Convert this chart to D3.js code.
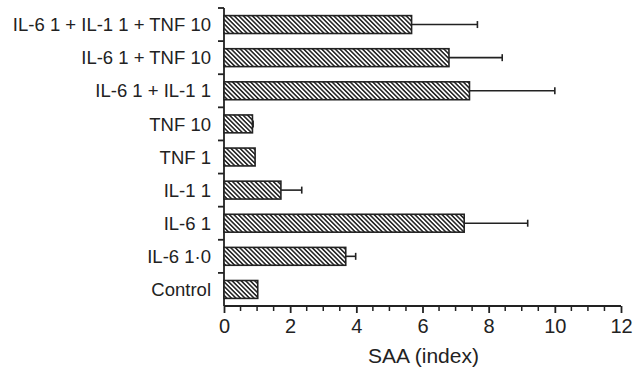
<!DOCTYPE html>
<html>
<head>
<meta charset="utf-8">
<script src="https://cdn.jsdelivr.net/npm/d3@7"></script>
<style>
  body { margin: 0; background: #fff; }
  svg { font-family: "Liberation Sans", Arial, sans-serif; }
</style>
</head>
<body>
<svg id="chart" width="636" height="368"></svg>
<script>
// SAA index per treatment (top to bottom as drawn)
const categories = [
  'IL-6 1 + IL-1 1 + TNF 10',
  'IL-6 1 + TNF 10',
  'IL-6 1 + IL-1 1',
  'TNF 10',
  'TNF 1',
  'IL-1 1',
  'IL-6 1',
  'IL-6 1·0',
  'Control'
];
const values = [5.67, 6.8, 7.42, 0.86, 0.94, 1.72, 7.26, 3.68, 1.02];
const errorTops = [7.66, 8.41, 10.0, 0.88, null, 2.35, 9.18, 3.98, null];
const xTicks = [0, 2, 4, 6, 8, 10, 12];

const ink = '#222';
const margin = { top: 8, right: 15, bottom: 62, left: 224 };
const width = 636, height = 368;

const svg = d3.select('#chart');

// hatch pattern: diagonal "\" strokes
const hs = 3.2;
const defs = svg.append('defs');
const pat = defs.append('pattern')
  .attr('id', 'hatch')
  .attr('patternUnits', 'userSpaceOnUse')
  .attr('width', hs).attr('height', hs)
  .attr('patternTransform', 'rotate(-45)');
pat.append('rect').attr('width', hs).attr('height', hs).attr('fill', '#fff');
pat.append('rect').attr('x', 0).attr('width', 1.6).attr('height', hs).attr('fill', '#2a2a2a');

const x = d3.scaleLinear().domain([0, 12]).range([margin.left, width - margin.right]);
const y = d3.scaleBand().domain(categories)
  .range([margin.top, height - margin.bottom])
  .paddingInner(0.46).paddingOuter(0.23);

// y axis: ticks at category boundaries
const yAxisG = svg.append('g').attr('stroke', ink).attr('stroke-width', 1.8);
yAxisG.append('line')
  .attr('x1', x(0)).attr('x2', x(0))
  .attr('y1', margin.top).attr('y2', height - margin.bottom);
const step = y.step();
d3.range(categories.length).forEach(i => {
  const yy = margin.top + i * step;
  yAxisG.append('line').attr('x1', x(0) - 6).attr('x2', x(0)).attr('y1', yy).attr('y2', yy);
});

// category labels
svg.append('g').selectAll('text')
  .data(categories)
  .join('text')
  .attr('x', x(0) - 13)
  .attr('y', d => y(d) + y.bandwidth() / 2)
  .attr('dy', '0.36em')
  .attr('text-anchor', 'end')
  .attr('font-size', 18.5)
  .attr('fill', ink)
  .text(d => d);

// x axis
const xAxis = d3.axisBottom(x).tickValues(xTicks).tickSize(7).tickPadding(6).tickFormat(d3.format('d'));
const xg = svg.append('g')
  .attr('transform', `translate(0,${height - margin.bottom})`)
  .call(xAxis);
xg.select('.domain').attr('stroke', ink).attr('stroke-width', 1.8)
  .attr('d', `M${x(0)},0H${x(12)}`);
xg.selectAll('.tick line').attr('stroke', ink).attr('stroke-width', 1.8);
xg.selectAll('.tick text').attr('font-size', 20).attr('fill', ink)
  .attr('font-family', '"Liberation Sans", Arial, sans-serif');

// minor ticks
const minor = d3.range(0.5, 12, 0.5).filter(v => v % 2 !== 0);
xg.selectAll('.minor')
  .data(minor)
  .join('line')
  .attr('x1', d => x(d)).attr('x2', d => x(d))
  .attr('y1', 0).attr('y2', 5)
  .attr('stroke', ink).attr('stroke-width', 1.5);

svg.append('text')
  .attr('x', x(6) + 1)
  .attr('y', 363)
  .attr('text-anchor', 'middle')
  .attr('font-size', 21)
  .attr('fill', ink)
  .text('SAA (index)');

// error bars
const errG = svg.append('g').attr('stroke', ink).attr('stroke-width', 1.6);
categories.forEach((c, i) => {
  if (errorTops[i] == null) return;
  const cy = y(c) + y.bandwidth() / 2;
  errG.append('line').attr('x1', x(values[i])).attr('x2', x(errorTops[i])).attr('y1', cy).attr('y2', cy);
  errG.append('line').attr('x1', x(errorTops[i])).attr('x2', x(errorTops[i])).attr('y1', cy - 3.5).attr('y2', cy + 3.5);
});

// bars
svg.append('g').selectAll('rect')
  .data(categories)
  .join('rect')
  .attr('x', x(0))
  .attr('y', d => y(d))
  .attr('width', (d, i) => x(values[i]) - x(0))
  .attr('height', y.bandwidth())
  .attr('fill', 'url(#hatch)')
  .attr('stroke', ink)
  .attr('stroke-width', 1.6);
</script>
</body>
</html>
